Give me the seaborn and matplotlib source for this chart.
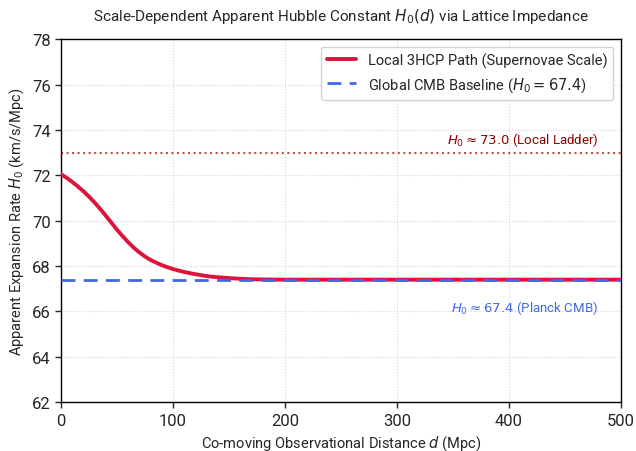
import pandas as pd
import numpy as np
import matplotlib
matplotlib.use("Agg")
import matplotlib.pyplot as plt
import seaborn as sns

# valeurs
distance = [0, 5, 10, 15, 20, 25, 30, 35, 40, 45, 50, 55, 60, 65, 70, 75, 80,
            85, 90, 95, 100, 105, 110, 115, 120, 125, 130, 135, 140, 150, 160,
            170, 180, 200, 250, 300, 350, 400, 450, 500]
h_local = [72.05, 71.89, 71.71, 71.51, 71.30, 71.06, 70.80, 70.52, 70.22, 69.91,
           69.60, 69.32, 69.05, 68.81, 68.60, 68.42, 68.27, 68.15, 68.04, 67.95,
           67.87, 67.80, 67.74, 67.69, 67.64, 67.60, 67.56, 67.53, 67.51, 67.47,
           67.44, 67.42, 67.41, 67.40, 67.40, 67.40, 67.40, 67.40, 67.40, 67.40]
h_cmb = 67.4
h_ladder = 73.0

df = pd.DataFrame({'d': distance, 'H': h_local})

sns.set_style('white')
plt.rcParams['font.family'] = ['Roboto', 'DejaVu Sans']
plt.rcParams['mathtext.fontset'] = 'dejavusans'

fig, ax = plt.subplots(figsize=(6.36, 4.52), dpi=100)
fig.subplots_adjust(left=0.096, right=0.976, top=0.911, bottom=0.108)

sns.lineplot(data=df, x='d', y='H', ax=ax, color='crimson', linewidth=2.8,
             label='Local 3HCP Path (Supernovae Scale)', zorder=3)
ax.axhline(h_cmb, color='royalblue', linestyle='--', linewidth=2, dashes=(5, 3),
           label=r'Global CMB Baseline ($H_0 = 67.4$)', zorder=4)
ax.axhline(h_ladder, color='firebrick', linestyle=':', linewidth=1.5, alpha=0.8)

ax.text(480, 73.2, r'$H_0 \approx 73.0$ (Local Ladder)', color='darkred',
        fontsize=9.5, ha='right', va='bottom')
ax.text(480, 66.2, r'$H_0 \approx 67.4$ (Planck CMB)', color='royalblue',
        fontsize=9.5, ha='right', va='center')

ax.set_xlim(0, 500)
ax.set_ylim(62, 78)
ax.set_yticks(np.arange(62, 79, 2))
ax.grid(True, linestyle=':', color='lightgray', linewidth=0.8)
for sp in ax.spines.values():
    sp.set_color('black')
    sp.set_linewidth(1)
ax.tick_params(axis='both', labelsize=12, length=4, width=1, direction='out',
               left=True, bottom=True)

ax.set_title(r'Scale-Dependent Apparent Hubble Constant $H_0(d)$ via Lattice Impedance',
             fontsize=11, pad=14)
ax.set_xlabel(r'Co-moving Observational Distance $d$ (Mpc)', fontsize=10.5)
ax.set_ylabel(r'Apparent Expansion Rate $H_0$ (km/s/Mpc)', fontsize=10.5)
ax.legend(loc='upper right', fontsize=10.5, frameon=True, framealpha=1,
          edgecolor='lightgray', fancybox=True)

plt.savefig('out.png', dpi=100)
